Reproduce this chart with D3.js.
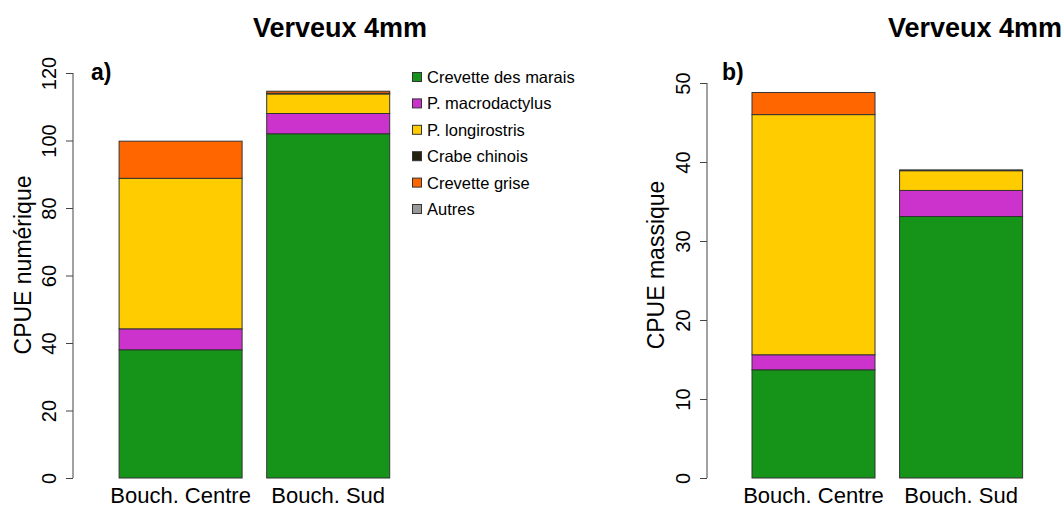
<!DOCTYPE html>
<html><head><meta charset="utf-8">
<script src="https://cdnjs.cloudflare.com/ajax/libs/d3/7.8.5/d3.min.js"></script>
<style>body{margin:0;background:#fff}svg{display:block;font-family:"Liberation Sans",Arial,sans-serif}</style>
</head><body>
<svg id="c" width="1062" height="507"></svg>
<script>
const categories = ["Bouch. Centre", "Bouch. Sud"];
const species = ["Crevette des marais", "P. macrodactylus", "P. longirostris", "Crabe chinois", "Crevette grise", "Autres"];
const colors = ["#169419", "#CC33CC", "#FFCC00", "#22220F", "#FF6600", "#999999"];
// CPUE numérique, per species (stack order bottom -> top), per site
const numCentre = [38.0, 6.2, 44.6, 0.0, 11.0, 0.0];
const numSud    = [102.0, 6.0, 5.8, 0.2, 0.6, 0.0];
// CPUE massique
const masCentre = [13.7, 1.9, 30.4, 0.0, 2.8, 0.0];
const masSud    = [33.1, 3.3, 2.5, 0.1, 0.0, 0.0];
const numTicks = [0, 20, 40, 60, 80, 100, 120];
const masTicks = [0, 10, 20, 30, 40, 50];

const svg = d3.select("#c");

function panel(opt) {
  const g = svg.append("g");
  const y = d3.scaleLinear().domain([0, opt.ymax]).range([478, opt.ytop]);
  const x = d3.scaleLinear().domain([0, 1]).range([opt.x0, opt.x0 + 123]);
  const series = [opt.centre, opt.sud];
  series.forEach((vals, i) => {
    let cum = 0;
    const left = 0.2 + 1.2 * i;
    vals.forEach((v, k) => {
      if (v <= 0) return;
      g.append("rect")
        .attr("x", x(left)).attr("width", x(left + 1) - x(left))
        .attr("y", y(cum + v)).attr("height", y(cum) - y(cum + v))
        .attr("fill", colors[k]).attr("stroke", "#333").attr("stroke-width", 1);
      cum += v;
    });
    g.append("text").attr("x", x(left + 0.5)).attr("y", 503)
      .attr("text-anchor", "middle").attr("font-size", 22).text(categories[i]);
  });
  // y axis
  const ax = g.append("g").attr("transform", `translate(${opt.axisX},0)`)
    .call(d3.axisLeft(y).tickValues(opt.ticks).tickSize(7).tickSizeOuter(0).tickFormat(d3.format("d")));
  ax.select(".domain").attr("stroke", "#444").attr("d", `M0,${y(opt.ticks[0])}V${y(opt.ticks[opt.ticks.length-1])}`);
  ax.selectAll(".tick line").attr("stroke", "#444");
  ax.selectAll(".tick text").attr("font-size", 20).attr("fill", "#000")
    .attr("text-anchor", "middle").attr("x", 0).attr("y", 0).attr("dy", "0em")
    .attr("transform", "translate(-17,0) rotate(-90)");
  g.append("text").attr("transform", `translate(${opt.labX},265) rotate(-90)`)
    .attr("text-anchor", "middle").attr("font-size", 23).text(opt.ylab);
  g.append("text").attr("x", opt.titleX).attr("y", 37).attr("text-anchor", "middle")
    .attr("font-weight", "bold").attr("font-size", 27).text("Verveux 4mm");
  g.append("text").attr("x", opt.tagX).attr("y", 80)
    .attr("font-weight", "bold").attr("font-size", 23).text(opt.tag);
}

panel({ymax: 120, ytop: 73, x0: 94.5, axisX: 73, ticks: numTicks, centre: numCentre, sud: numSud,
  ylab: "CPUE numérique", labX: 31, titleX: 340, tag: "a)", tagX: 91});
panel({ymax: 50, ytop: 83, x0: 727.4, axisX: 707, ticks: masTicks, centre: masCentre, sud: masSud,
  ylab: "CPUE massique", labX: 664, titleX: 975, tag: "b)", tagX: 722});

// legend
const leg = svg.append("g");
species.forEach((s, i) => {
  const yy = 77 + i * 26.4;
  leg.append("rect").attr("x", 412.5).attr("y", yy - 4.5).attr("width", 9).attr("height", 9)
    .attr("fill", colors[i]).attr("stroke", "#333").attr("stroke-width", 1);
  leg.append("text").attr("x", 427).attr("y", yy + 6).attr("font-size", 16.5).text(s);
});
</script>
</body></html>
